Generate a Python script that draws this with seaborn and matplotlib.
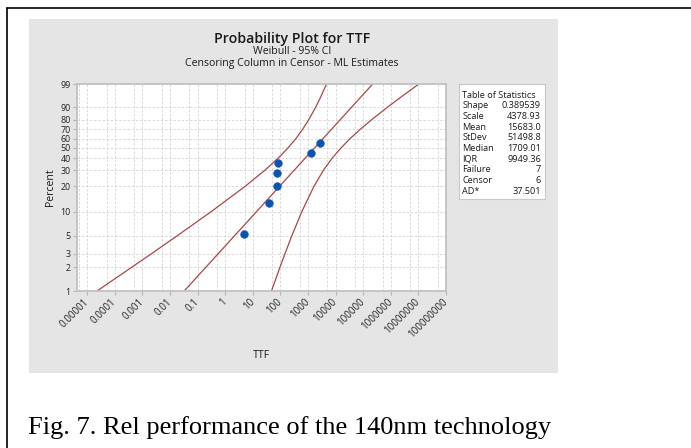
import numpy as np
import matplotlib
matplotlib.use("Agg")
import matplotlib.pyplot as plt
import seaborn as sns
from matplotlib.patches import Rectangle
from matplotlib.lines import Line2D
from matplotlib.ticker import FixedLocator, NullFormatter, NullLocator

# ---------------- data ----------------
fail_ttf = [4.9, 37, 73, 73, 80, 1280, 2720]
fail_pct = [5.3, 12.8, 20.4, 28.0, 35.8, 45.3, 54.9]

line_pct = [1, 2, 3, 5, 10, 20, 30, 40, 50, 60, 70, 80, 90, 95, 99]
fit_ttf = [0.0326, 0.1955, 0.5615, 2.139, 13.58, 93.1, 310.5, 780, 1709,
           3499, 7053, 14860, 37260, 73200, 220700]
ci_low_ttf = [2.25e-5, 4.0e-4, 2.15e-3, 0.0178, 0.310, 5.27, 26.9, 81.9, 187,
              365, 637, 1072, 1876, 2710, 4670]
ci_high_ttf = [47.2, 95.5, 147, 257, 596, 1644, 3581, 7430, 15600,
               33600, 78000, 206000, 740000, 1.98e6, 1.04e7]

x_ticks = [1e-5, 1e-4, 1e-3, 1e-2, 1e-1, 1, 10, 100, 1e3, 1e4, 1e5, 1e6, 1e7, 1e8]
x_tick_labels = ["0.00001", "0.0001", "0.001", "0.01", "0.1", "1", "10", "100",
                 "1000", "10000", "100000", "1000000", "10000000", "100000000"]
x_grid_minor = [5e-6, 5e-5, 5e-4, 5e-3, 5e-2, 0.5, 5, 50, 500, 5e3, 5e4, 5e5, 5e6, 5e7]
y_ticks = [1, 2, 3, 5, 10, 20, 30, 40, 50, 60, 70, 80, 90, 99]
y_tick_labels = ["1", "2", "3", "5", "10", "20", "30", "40", "50", "60", "70", "80", "90", "99"]

stat_names = ["Shape", "Scale", "Mean", "StDev", "Median", "IQR", "Failure", "Censor", "AD*"]
stat_values = ["0.389539", "4378.93", "15683.0", "51498.8", "1709.01", "9949.36", "7", "6", "37.501"]

title = "Probability Plot for TTF"
subtitle1 = "Weibull - 95% CI"
subtitle2 = "Censoring Column in Censor - ML Estimates"
caption = "Fig. 7. Rel performance of the 140nm technology"

# ---------------- style ----------------
sns.set_theme(style="white")
plt.rcParams["font.family"] = ["Open Sans", "DejaVu Sans"]

W, H = 691, 448
fig = plt.figure(figsize=(W / 100, H / 100), dpi=100)
fig.patch.set_facecolor("white")


def fx(x):
    return x / W


def fy(y):
    return 1 - y / H


# outer frame lines (top and left)
fig.add_artist(Line2D([fx(7), 1.0], [fy(8), fy(8)], transform=fig.transFigure,
                      color="black", lw=1.2, zorder=-20))
fig.add_artist(Line2D([fx(7), fx(7)], [fy(8), 0.0], transform=fig.transFigure,
                      color="black", lw=1.2, zorder=-20))

# grey graph panel
fig.add_artist(Rectangle((fx(28.5), fy(373)), fx(558) - fx(28.5), fy(19.5) - fy(373),
                         transform=fig.transFigure, facecolor="#e5e5e5",
                         edgecolor="none", zorder=-10))

ax = fig.add_axes([fx(77), fy(291), fx(446) - fx(77), fy(84) - fy(291)])
ax.set_facecolor("white")

red = "#ad4645"
blue = "#0b55b0"

sns.lineplot(x=ci_low_ttf, y=line_pct, ax=ax, color=red, lw=0.9, sort=False,
             estimator=None, zorder=2)
sns.lineplot(x=fit_ttf, y=line_pct, ax=ax, color=red, lw=0.9, sort=False,
             estimator=None, zorder=2)
sns.lineplot(x=ci_high_ttf, y=line_pct, ax=ax, color=red, lw=0.9, sort=False,
             estimator=None, zorder=2)
sns.scatterplot(x=fail_ttf, y=fail_pct, ax=ax, color=blue, s=32,
                edgecolor=blue, linewidth=0.3, zorder=3)


def wfwd(p):
    p = np.clip(np.asarray(p, dtype=float), 1e-6, 100 - 1e-9)
    return np.log(-np.log(1 - p / 100.0))


def winv(t):
    return 100.0 * (1 - np.exp(-np.exp(np.asarray(t, dtype=float))))


ax.set_xscale("log")
ax.set_yscale("function", functions=(wfwd, winv))
ax.set_xlim(10 ** -5.373, 1e8)
ax.set_ylim(1, 99)

ax.xaxis.set_major_locator(FixedLocator(x_ticks))
ax.set_xticklabels(x_tick_labels)
ax.xaxis.set_minor_locator(FixedLocator(x_grid_minor))
ax.xaxis.set_minor_formatter(NullFormatter())
ax.yaxis.set_major_locator(FixedLocator(y_ticks))
ax.set_yticklabels(y_tick_labels)
ax.yaxis.set_minor_locator(NullLocator())

grid_kw = dict(color="#d3d3d3", lw=0.6, linestyle=(0, (3, 2)))
ax.grid(True, which="major", **grid_kw)
ax.grid(True, which="minor", axis="x", **grid_kw)
ax.set_axisbelow(True)

for s in ax.spines.values():
    s.set_color("#c2c2c2")
    s.set_linewidth(1.3)

ax.tick_params(axis="both", which="major", length=3, width=0.8, color="#b5b5b5",
               labelcolor="#222222", pad=1.5, bottom=True, left=True)
ax.tick_params(axis="x", which="major", labelsize=7)
ax.tick_params(axis="y", which="major", labelsize=6.4)
ax.tick_params(axis="x", which="minor", length=0)
for lab in ax.get_xticklabels():
    lab.set_rotation(45)
    lab.set_ha("right")
    lab.set_va("center")
    lab.set_rotation_mode("anchor")
ax.tick_params(axis="x", pad=4)

ax.set_xlabel("")
ax.set_ylabel("")

# titles
fig.text(fx(292), fy(39), title, ha="center", va="center", fontsize=10.2,
         fontweight="semibold", color="#1a1a1a")
fig.text(fx(292), fy(52), subtitle1, ha="center", va="center", fontsize=7.6, color="#1a1a1a")
fig.text(fx(292), fy(63.5), subtitle2, ha="center", va="center", fontsize=7.6, color="#1a1a1a")

# axis labels
fig.text(fx(51), fy(187), "Percent", rotation=90, ha="center", va="center",
         fontsize=7.6, color="#1a1a1a")
fig.text(fx(261.5), fy(355), "TTF", ha="center", va="center", fontsize=7.6, color="#1a1a1a")

# table of statistics
fig.add_artist(Rectangle((fx(459), fy(199)), fx(545) - fx(459), fy(84) - fy(199),
                         transform=fig.transFigure, facecolor="white",
                         edgecolor="#c8c8c8", lw=0.8, zorder=1))
fig.text(fx(499), fy(95), "Table of Statistics", ha="center", va="center",
         fontsize=6.6, color="#1a1a1a", zorder=2)
for i, (n, v) in enumerate(zip(stat_names, stat_values)):
    yy = 105.7 + i * 10.7
    fig.text(fx(462.5), fy(yy), n, ha="left", va="center", fontsize=6.6,
             color="#1a1a1a", zorder=2)
    fig.text(fx(541), fy(yy), v, ha="right", va="center", fontsize=6.6,
             color="#1a1a1a", zorder=2)

# caption
fig.text(fx(28.5), fy(428), caption, ha="left", va="center", fontsize=19,
         family=["Liberation Serif", "DejaVu Serif"], color="black")

fig.savefig("out.png", dpi=100)
